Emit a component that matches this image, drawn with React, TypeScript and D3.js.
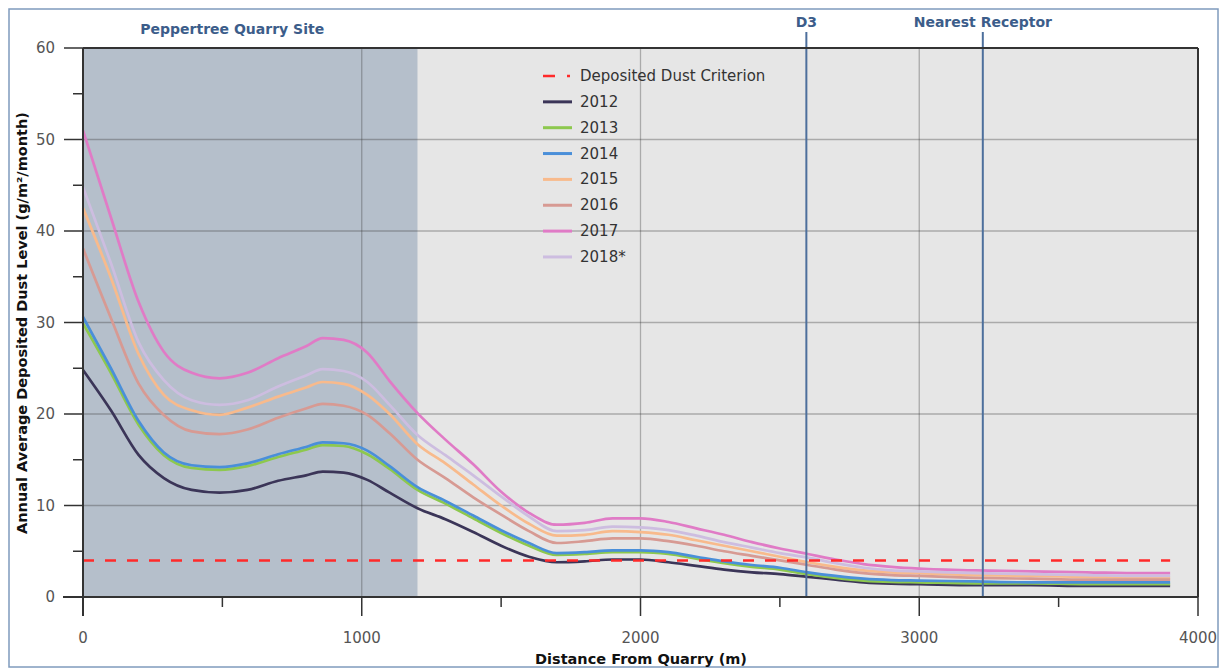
import React from "react";
import * as d3 from "d3";

const distances = [0, 100, 200, 290, 390, 490, 590, 700, 800, 860, 935, 1020, 1100, 1200, 1300, 1400, 1500, 1600, 1700, 1800, 1900, 2000, 2100, 2200, 2300, 2400, 2500, 2600, 2700, 2800, 2900, 3000, 3200, 3400, 3600, 3800, 3900];

const y2012 = [24.8, 20.4, 15.5, 13.0, 11.7, 11.4, 11.7, 12.7, 13.3, 13.7, 13.6, 12.8, 11.4, 9.7, 8.5, 7.1, 5.6, 4.4, 3.8, 3.9, 4.1, 4.1, 3.8, 3.4, 3.0, 2.7, 2.5, 2.2, 1.9, 1.6, 1.45, 1.4, 1.3, 1.3, 1.2, 1.2, 1.2];
const y2013 = [29.9, 24.5, 18.8, 15.5, 14.1, 13.9, 14.3, 15.3, 16.1, 16.6, 16.5, 15.6, 14.0, 11.7, 10.2, 8.6, 7.0, 5.6, 4.6, 4.7, 4.9, 4.9, 4.7, 4.2, 3.7, 3.3, 3.0, 2.5, 2.1, 1.8, 1.65, 1.6, 1.5, 1.5, 1.4, 1.4, 1.4];
const y2014 = [30.6, 25.0, 19.2, 15.8, 14.4, 14.2, 14.6, 15.6, 16.4, 16.9, 16.8, 16.0, 14.3, 12.0, 10.5, 8.9, 7.3, 5.9, 4.8, 4.9, 5.1, 5.1, 4.9, 4.4, 3.9, 3.5, 3.2, 2.7, 2.3, 2.0, 1.85, 1.8, 1.7, 1.6, 1.6, 1.6, 1.6];
const y2015 = [42.5, 34.9, 26.5, 22.1, 20.4, 19.9, 20.7, 21.9, 22.9, 23.5, 23.3, 22.1, 20.0, 16.7, 14.6, 12.3, 10.0, 8.0, 6.7, 6.8, 7.2, 7.1, 6.8, 6.2, 5.6, 5.0, 4.4, 3.8, 3.3, 2.9, 2.7, 2.6, 2.4, 2.3, 2.2, 2.1, 2.1];
const y2016 = [38.1, 30.5, 23.3, 19.9, 18.1, 17.8, 18.3, 19.6, 20.6, 21.1, 20.9, 19.9, 17.9, 15.0, 13.0, 10.9, 9.0, 7.2, 5.9, 6.1, 6.4, 6.4, 6.1, 5.6, 5.0, 4.5, 4.0, 3.5, 3.0, 2.6, 2.4, 2.3, 2.1, 2.0, 1.9, 1.9, 1.9];
const y2017 = [51.0, 41.5, 32.2, 26.8, 24.5, 23.9, 24.5, 26.1, 27.4, 28.3, 28.1, 26.7, 23.6, 20.1, 17.2, 14.5, 11.5, 9.2, 7.9, 8.1, 8.6, 8.6, 8.2, 7.5, 6.8, 6.0, 5.3, 4.7, 4.1, 3.6, 3.3, 3.1, 2.9, 2.8, 2.7, 2.6, 2.6];
const y2018 = [44.8, 36.5, 27.8, 23.7, 21.5, 21.0, 21.5, 23.0, 24.2, 24.9, 24.7, 23.5, 21.0, 17.7, 15.5, 13.3, 11.0, 8.8, 7.2, 7.3, 7.7, 7.6, 7.3, 6.7, 6.0, 5.4, 4.8, 4.3, 3.7, 3.2, 2.9, 2.8, 2.6, 2.5, 2.4, 2.3, 2.3];

const seriesNames = ["2012", "2013", "2014", "2015", "2016", "2017", "2018*"];
const seriesValues = [y2012, y2013, y2014, y2015, y2016, y2017, y2018];
const seriesColors = ["#3b3558", "#8dc84e", "#4a8fd9", "#f8ba8c", "#d79a93", "#e07bc6", "#cdbde0"];

const criterion = 4;
const criterionRange = [0, 3900];
const siteExtent = [0, 1200];
const markers = [
  { label: "D3", x: 2595 },
  { label: "Nearest Receptor", x: 3228 },
];

const xMajorTicks = [0, 1000, 2000, 3000, 4000];
const xMinorTicks = [500, 1500, 2500, 3500];
const yMajorTicks = [0, 10, 20, 30, 40, 50, 60];
const yMinorTicks = [5, 15, 25, 35, 45, 55];

const FONT = "'DejaVu Sans', sans-serif";

export default function App() {
  const W = 1227, H = 669;
  const left = 83, right = 1198, top = 48, bottom = 597;
  const x = d3.scaleLinear().domain([0, 4000]).range([left, right]);
  const y = d3.scaleLinear().domain([0, 60]).range([bottom, top]);
  const line = d3
    .line<number>()
    .x((_, i) => x(distances[i]))
    .y((v) => y(v))
    .curve(d3.curveMonotoneX);

  const legendX = 543;
  const legendY0 = 76;
  const legendDy = 25.85;

  return (
    <svg width={W} height={H} style={{ position: "absolute", left: 0, top: 0, background: "#fff" }} fontFamily={FONT}>
      <rect x={9} y={9} width={1209} height={658} fill="#fff" stroke="#7f9bbd" strokeWidth={1.5} />
      {/* plot background */}
      <rect x={left} y={top} width={right - left} height={bottom - top} fill="#e6e6e6" />
      <rect x={x(siteExtent[0])} y={top} width={x(siteExtent[1]) - x(siteExtent[0])} height={bottom - top} fill="#b5bfcb" />
      {/* grid */}
      {yMajorTicks.filter((t) => t > 0 && t < 60).map((t) => (
        <line key={"gy" + t} x1={left} x2={right} y1={y(t)} y2={y(t)} stroke="#3a3a3a" strokeOpacity={0.35} strokeWidth={1.3} />
      ))}
      {xMajorTicks.filter((t) => t > 0 && t < 4000).map((t) => (
        <line key={"gx" + t} x1={x(t)} x2={x(t)} y1={top} y2={bottom} stroke="#3a3a3a" strokeOpacity={0.35} strokeWidth={1.3} />
      ))}
      {/* series */}
      {seriesValues.map((vals, i) => (
        <path key={seriesNames[i]} d={line(vals) || ""} fill="none" stroke={seriesColors[i]} strokeWidth={2.7} strokeLinejoin="round" />
      ))}
      {/* criterion */}
      <line x1={x(criterionRange[0])} x2={x(criterionRange[1])} y1={y(criterion)} y2={y(criterion)} stroke="#ff2a2a" strokeWidth={2.5} strokeDasharray="11,11" />
      {/* markers */}
      {markers.map((m) => (
        <g key={m.label}>
          <line x1={x(m.x)} x2={x(m.x)} y1={32} y2={bottom} stroke="#4d6f9c" strokeWidth={2} />
          <text x={x(m.x)} y={27} textAnchor="middle" fontWeight="bold" fontSize={14} fill="#3c5d8a">{m.label}</text>
        </g>
      ))}
      <text x={(x(siteExtent[0]) + x(siteExtent[1])) / 2 - 18} y={34} textAnchor="middle" fontWeight="bold" fontSize={14} fill="#3c5d8a">Peppertree Quarry Site</text>
      {/* border */}
      <line x1={left} x2={right} y1={top} y2={top} stroke="#333" strokeWidth={2} />
      <line x1={right} x2={right} y1={top} y2={bottom} stroke="#333" strokeWidth={2} />
      {/* axes */}
      <line x1={left} x2={left} y1={top} y2={bottom + 19} stroke="#333" strokeWidth={2} />
      <line x1={63} x2={right} y1={bottom} y2={bottom} stroke="#333" strokeWidth={2} />
      {yMajorTicks.map((t) => (
        <g key={"ym" + t}>
          <line x1={64} x2={left} y1={y(t)} y2={y(t)} stroke="#333" strokeWidth={1.5} />
          <text x={55} y={y(t) + 5} textAnchor="end" fontSize={15} fill="#555">{t}</text>
        </g>
      ))}
      {yMinorTicks.map((t) => (
        <line key={"yn" + t} x1={73} x2={left} y1={y(t)} y2={y(t)} stroke="#333" strokeWidth={1.5} />
      ))}
      {xMajorTicks.map((t) => (
        <g key={"xm" + t}>
          <line x1={x(t)} x2={x(t)} y1={bottom} y2={bottom + 19} stroke="#333" strokeWidth={1.5} />
          <text x={x(t)} y={643} textAnchor="middle" fontSize={15} fill="#555">{t}</text>
        </g>
      ))}
      {xMinorTicks.map((t) => (
        <line key={"xn" + t} x1={x(t)} x2={x(t)} y1={bottom} y2={bottom + 10} stroke="#333" strokeWidth={1.5} />
      ))}
      {/* axis titles */}
      <text x={641} y={664} textAnchor="middle" fontWeight="bold" fontSize={14.5} fill="#111">Distance From Quarry (m)</text>
      <text transform={`translate(27, ${323}) rotate(-90)`} textAnchor="middle" fontWeight="bold" fontSize={14.5} fill="#111">Annual Average Deposited Dust Level (g/m²/month)</text>
      {/* legend */}
      <g>
        <line x1={legendX} x2={legendX + 29} y1={legendY0} y2={legendY0} stroke="#ff2a2a" strokeWidth={2.5} strokeDasharray="12,12,3,20" />
        <text x={legendX + 37} y={legendY0 + 5} fontSize={15} fill="#333">Deposited Dust Criterion</text>
        {seriesNames.map((n, i) => (
          <g key={"lg" + n}>
            <line x1={legendX} x2={legendX + 29} y1={legendY0 + legendDy * (i + 1)} y2={legendY0 + legendDy * (i + 1)} stroke={seriesColors[i]} strokeWidth={3} />
            <text x={legendX + 37} y={legendY0 + legendDy * (i + 1) + 5} fontSize={15} fill="#333">{n}</text>
          </g>
        ))}
      </g>
    </svg>
  );
}
